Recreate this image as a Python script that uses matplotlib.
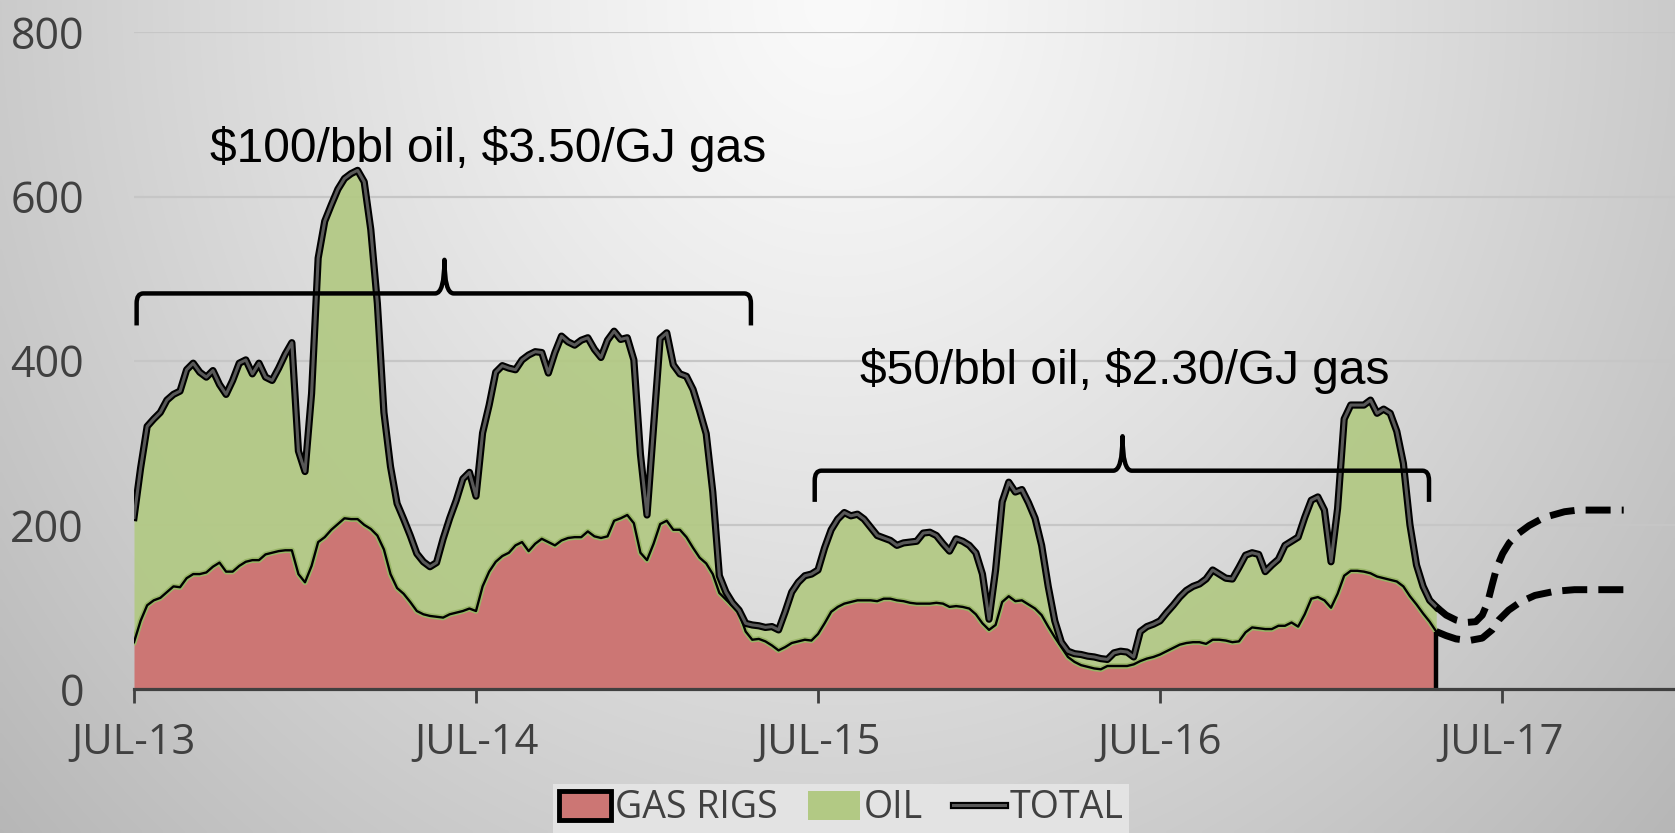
import numpy as np
import matplotlib
matplotlib.use("Agg")
import matplotlib.pyplot as plt
from matplotlib.path import Path
from matplotlib.patches import PathPatch, Patch
from matplotlib.lines import Line2D

# Weekly rig counts, first week of July 2013 onward
total = [209, 269, 320, 329, 337, 352, 359, 363, 389, 397,
         386, 380, 388, 371, 359, 376, 397, 401, 384, 397,
         380, 376, 391, 408, 422, 290, 265, 360, 525, 570,
         590, 609, 622, 628, 632, 618, 560, 470, 337, 271,
         226, 207, 187, 165, 155, 149, 154, 183, 208, 230,
         256, 264, 235, 312, 346, 386, 394, 391, 389, 401,
         407, 411, 410, 385, 410, 430, 423, 419, 425, 428,
         414, 404, 425, 436, 426, 428, 401, 286, 212, 320,
         427, 434, 395, 384, 381, 365, 339, 311, 240, 138,
         118, 105, 96, 80, 78, 77, 75, 76, 72, 94,
         118, 130, 138, 140, 145, 172, 194, 207, 215, 211,
         213, 207, 197, 187, 184, 181, 175, 178, 179, 180,
         190, 191, 187, 177, 168, 183, 180, 175, 166, 140,
         85, 145, 228, 252, 240, 243, 227, 208, 175, 125,
         83, 57, 46, 43, 42, 40, 39, 37, 36, 44,
         46, 45, 39, 70, 76, 79, 83, 93, 102, 112,
         120, 125, 128, 134, 145, 140, 135, 134, 148, 163,
         166, 164, 143, 151, 158, 175, 180, 185, 209, 230,
         234, 218, 155, 220, 329, 346, 346, 346, 352, 336,
         341, 336, 314, 275, 200, 151, 125, 108, 100]

gas = [57, 83, 102, 108, 111, 118, 125, 124, 135, 140,
       140, 142, 149, 154, 143, 143, 150, 155, 157, 157,
       164, 166, 168, 169, 169, 140, 130, 150, 179, 185,
       194, 201, 208, 207, 207, 200, 195, 187, 170, 140,
       123, 116, 106, 95, 91, 89, 88, 87, 91, 93,
       95, 98, 95, 125, 143, 155, 162, 166, 175, 179,
       168, 177, 183, 179, 175, 181, 184, 185, 185, 192,
       186, 184, 186, 205, 208, 212, 202, 166, 157, 177,
       201, 205, 194, 194, 185, 172, 160, 153, 140, 117,
       109, 101, 93, 70, 60, 61, 58, 53, 47, 51,
       56, 58, 60, 59, 67, 80, 94, 100, 104, 106,
       108, 108, 108, 107, 110, 110, 108, 107, 105, 104,
       104, 104, 105, 104, 100, 101, 100, 98, 91, 80,
       72, 78, 106, 113, 107, 108, 103, 98, 90, 76,
       63, 51, 39, 33, 29, 27, 25, 24, 28, 28,
       28, 28, 30, 34, 37, 39, 42, 46, 50, 54,
       56, 57, 57, 55, 60, 60, 59, 57, 58, 69,
       75, 74, 73, 73, 77, 77, 81, 76, 91, 110,
       112, 108, 99, 116, 138, 144, 144, 143, 141, 137,
       135, 133, 131, 125, 113, 103, 92, 82, 70]

# Outlook curves (week index, rigs)
fc_total_week = [198, 199.5, 201, 202.5, 204.0, 205.0, 205.8, 206.5, 207.2,
                 208.1, 209.1, 210.4, 212.1, 214.4, 217.5, 219.5, 226.5]
fc_total = [100, 90, 84, 81, 82, 90, 105, 127, 148, 165, 178, 189, 199,
            209, 216, 218, 218]
fc_gas_week = [198, 199.5, 201, 203, 205, 206.5, 207.5, 209, 210.8,
               213, 216, 219, 226.5]
fc_gas = [70, 65, 61, 59, 62, 72, 84, 96, 106, 114, 119, 121, 121]

tick_weeks = [0, 52, 104, 156, 208]
tick_labels = ["JUL-13", "JUL-14", "JUL-15", "JUL-16", "JUL-17"]
y_ticks = [0, 200, 400, 600, 800]

# Price regimes and the weeks each bracket spans
regime_labels = ["$100/bbl oil, $3.50/GJ gas", "$50/bbl oil, $2.30/GJ gas"]
regime_spans = [(0.4, 93.8), (103.5, 196.9)]

GAS_C = "#CC7674"
OIL_C = "#B2C984"
GLOW_C = "#98B566"
TXT_C = "#404040"
TICK_FONT = "Open Sans"
NOTE_FONT = "Liberation Sans"

W, H = 1675, 833
fig = plt.figure(figsize=(W / 100, H / 100), dpi=100)

# soft grey radial backdrop
bg = fig.add_axes([0, 0, 1, 1], zorder=-10)
yy, xx = np.mgrid[0:1:220j, 0:1:440j]
dist = np.sqrt(((xx - 0.5) / 0.5) ** 2 + (yy * 0.9) ** 2)
shade = np.clip(250 - 47 * dist ** 1.2, 150, 255) / 255.0
bg.imshow(np.dstack([shade] * 3), extent=[0, 1, 0, 1], origin="upper",
          aspect="auto", interpolation="bilinear")
bg.set_xlim(0, 1)
bg.set_ylim(0, 1)
bg.set_axis_off()

ax = fig.add_axes([0.080, 0.1729, 0.920, 0.7881])
ax.patch.set_alpha(0)
x = np.arange(len(total))

ax.fill_between(x, gas, total, color=OIL_C, lw=0, alpha=0.93, zorder=2)
ax.fill_between(x, 0, gas, color=GAS_C, lw=0, zorder=3)
ax.plot(x, gas, color=GLOW_C, lw=4.0, zorder=4, solid_joinstyle="round")
ax.plot(x, gas, color="black", lw=1.7, zorder=5, solid_joinstyle="round")
ax.vlines(x[-1], 0, gas[-1], color="black", lw=3.2, zorder=5)
ax.plot(x, total, color="black", lw=5.2, zorder=6, solid_joinstyle="round")
ax.plot(x, total, color="#585858", lw=2.2, zorder=7, solid_joinstyle="round")

for wk, vals in ((fc_total_week, fc_total), (fc_gas_week, fc_gas)):
    ax.plot(wk, vals, color="black", lw=5, dashes=(3.6, 1.6),
            dash_capstyle="butt", zorder=8)


def brace(ax, x0, x1, xtip, y_bar, y_end, y_tip):
    cx, cy = 1.0, 12.0
    tw = 1.4
    verts = [(x0, y_end), (x0, y_bar - cy),
             (x0, y_bar), (x0 + cx, y_bar),
             (xtip - tw, y_bar),
             (xtip, y_bar), (xtip, y_tip),
             (xtip, y_bar), (xtip + tw, y_bar),
             (x1 - cx, y_bar),
             (x1, y_bar), (x1, y_bar - cy),
             (x1, y_end)]
    codes = [Path.MOVETO, Path.LINETO,
             Path.CURVE3, Path.CURVE3,
             Path.LINETO,
             Path.CURVE3, Path.CURVE3,
             Path.CURVE3, Path.CURVE3,
             Path.LINETO,
             Path.CURVE3, Path.CURVE3,
             Path.LINETO]
    ax.add_patch(PathPatch(Path(verts, codes), fill=False, lw=3.2,
                           edgecolor="black", joinstyle="round",
                           capstyle="butt", zorder=9))


(s0, e0), (s1, e1) = regime_spans
brace(ax, s0, e0, 47.2, 482, 443, 523)
brace(ax, s1, e1, 150.3, 266, 228, 308)
ax.text(53.8, 642, regime_labels[0], ha="center", va="baseline",
        fontsize=34.5, family=NOTE_FONT, color="black", parse_math=False,
        zorder=10)
ax.text(150.7, 372, regime_labels[1], ha="center", va="baseline",
        fontsize=34.5, family=NOTE_FONT, color="black", parse_math=False,
        zorder=10)

ax.set_xlim(0, 234.3)
ax.set_ylim(0, 800)
ax.set_xticks(tick_weeks)
ax.set_xticklabels(tick_labels, family=TICK_FONT)
ax.set_yticks(y_ticks)
ax.set_yticklabels([str(v) for v in y_ticks], family=TICK_FONT)
ax.yaxis.grid(True, color="#c6c6c6", lw=1.6)
ax.set_axisbelow(True)
for side in ("left", "top", "right"):
    ax.spines[side].set_visible(False)
ax.spines["bottom"].set_color(TXT_C)
ax.spines["bottom"].set_linewidth(2.3)
ax.spines["bottom"].set_zorder(11)
ax.tick_params(axis="x", length=10, width=2, color=TXT_C, pad=14,
               labelsize=30, labelcolor=TXT_C)
ax.tick_params(axis="y", length=0, pad=36, labelsize=31, labelcolor=TXT_C)

handles = [Patch(facecolor=GAS_C, edgecolor="black", linewidth=3.5),
           Patch(facecolor=OIL_C, edgecolor="none"),
           (Line2D([], [], color="black", lw=5.2),
            Line2D([], [], color="#585858", lw=2.2))]
leg = fig.legend(handles, ["GAS RIGS", "OIL", "TOTAL"], loc="lower center",
                 bbox_to_anchor=(0.502, 0.0), borderaxespad=0.0, ncol=3,
                 frameon=True, fancybox=False, facecolor="#e3e3e3",
                 edgecolor="none", framealpha=1,
                 prop=dict(family=TICK_FONT, size=27),
                 labelcolor=TXT_C, handlelength=1.4, handleheight=0.8,
                 handletextpad=0.1, columnspacing=0.8, borderpad=0.15)

fig.savefig("out.png", dpi=100)
